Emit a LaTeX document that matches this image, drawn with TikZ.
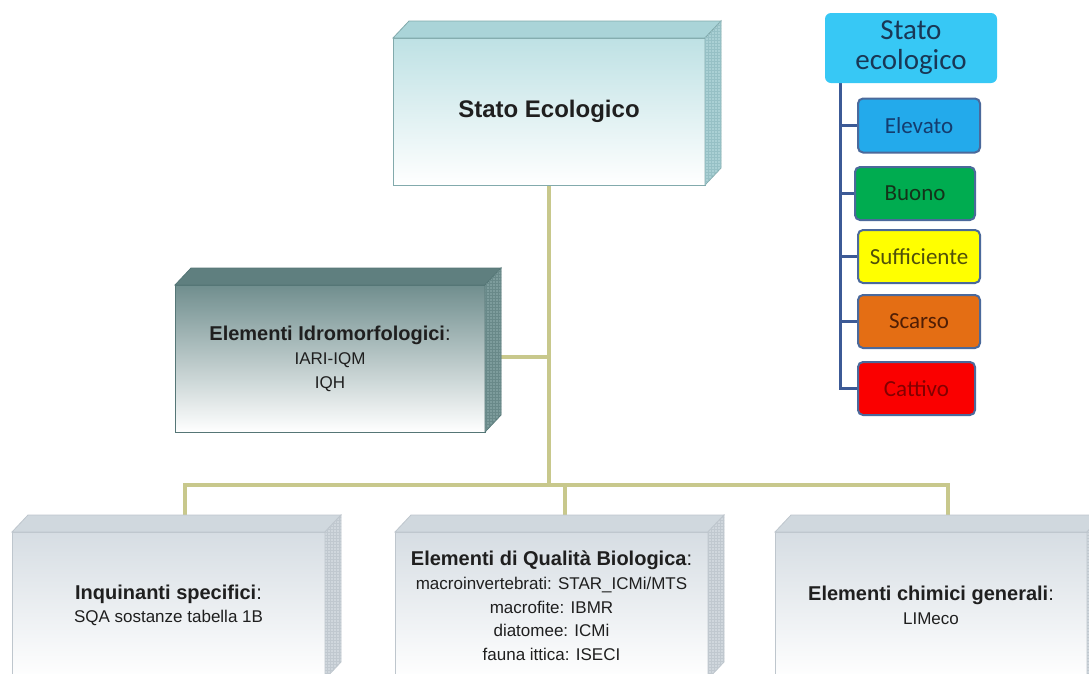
\documentclass[tikz,border=0pt]{standalone}
\usepackage{fontspec}
\setmainfont{Liberation Sans}
\newfontfamily\calib{Carlito}
\usetikzlibrary{patterns}
\pgfdeclarelayer{bg}
\pgfdeclarelayer{lines}
\pgfsetlayers{bg,lines,main}

\definecolor{conn}{RGB}{200,200,140}
\definecolor{legline}{RGB}{60,90,150}
\definecolor{legborder}{RGB}{75,105,155}
\definecolor{legtitle}{RGB}{55,200,245}
\definecolor{elev}{RGB}{35,170,235}
\definecolor{buon}{RGB}{0,172,80}
\definecolor{suff}{RGB}{255,255,0}
\definecolor{scar}{RGB}{228,110,20}
\definecolor{catt}{RGB}{250,0,0}
\definecolor{setop}{RGB}{190,225,228}
\definecolor{seface}{RGB}{170,212,216}
\definecolor{seside}{RGB}{170,208,212}
\definecolor{segrid}{RGB}{150,192,197}
\definecolor{seborder}{RGB}{130,170,172}
\definecolor{hytop}{RGB}{112,142,142}
\definecolor{hyface}{RGB}{95,127,127}
\definecolor{hyside}{RGB}{125,156,156}
\definecolor{hygrid}{RGB}{105,137,137}
\definecolor{hyborder}{RGB}{85,118,118}
\definecolor{bttop}{RGB}{214,221,227}
\definecolor{btface}{RGB}{208,216,222}
\definecolor{btside}{RGB}{208,215,221}
\definecolor{btgrid}{RGB}{192,200,207}
\definecolor{btborder}{RGB}{190,198,205}

\newcommand\cubefaces[5]{%
  \filldraw[fill=#2,draw=#4,line width=0.8pt] (#1.north west) -- ++(16,-17) -- ([shift={(16,-17)}]#1.north east) -- (#1.north east) -- cycle;
  \filldraw[fill=#3,draw=#4,line width=0.8pt] (#1.north east) -- ([shift={(16,-17)}]#1.north east) -- ([shift={(16,-17)}]#1.south east) -- (#1.south east) -- cycle;
  \fill[pattern=grid,pattern color=#5] (#1.north east) -- ([shift={(16,-17)}]#1.north east) -- ([shift={(16,-17)}]#1.south east) -- (#1.south east) -- cycle;
}

\tikzset{
  frontbox/.style={rectangle, draw, line width=0.8pt, outer sep=0pt, inner sep=0pt,
    align=center, bottom color=white, minimum width=312pt, minimum height=147pt,
    text=black!88, font=\fontsize{17}{23.5}\selectfont},
  conline/.style={draw=conn, line width=3.2pt},
  legline/.style={draw=legline, line width=3pt},
  legitem/.style={rectangle, rounded corners=5pt, draw=legborder, line width=2pt,
    minimum width=122pt, minimum height=54pt, inner sep=0pt, outer sep=0pt,
    font=\calib\fontsize{23}{26}\selectfont},
}

\begin{document}
\begin{tikzpicture}[x=1pt,y=-1pt]
\begin{pgfonlayer}{bg}
\fill[white] (0,0) rectangle (1089,673);
\end{pgfonlayer}
\useasboundingbox (0,0) rectangle (1089,673);

% main boxes
\node[frontbox, draw=seborder, top color=setop] (se) at (549,111.5)
  {\fontsize{24}{28}\selectfont\bfseries Stato Ecologico};
\cubefaces{se}{seface}{seside}{seborder}{segrid}

\node[frontbox, draw=hyborder, top color=hytop, minimum width=310pt] (hyd) at (330,358.5)
  {{\fontsize{20}{24}\selectfont\bfseries Elementi Idromorfologici\mdseries:}\\[1pt]
   IARI-IQM\\IQH};
\cubefaces{hyd}{hyface}{hyside}{hyborder}{hygrid}

\node[frontbox, draw=btborder, top color=bttop, minimum width=313pt] (inq) at (168.5,605.5)
  {{\fontsize{20}{24}\selectfont\bfseries Inquinanti specifici\mdseries:}\\
   SQA sostanze tabella 1B};
\cubefaces{inq}{btface}{btside}{btborder}{btgrid}

\node[frontbox, draw=btborder, top color=bttop, minimum width=313pt] (bio) at (551.5,605.5)
  {{\fontsize{20}{24}\selectfont\bfseries Elementi di Qualità Biologica\mdseries:}\\[1pt]
   macroinvertebrati: STAR\_ICMi/MTS\\macrofite: IBMR\\diatomee: ICMi\\fauna ittica: ISECI};
\cubefaces{bio}{btface}{btside}{btborder}{btgrid}

\node[frontbox, draw=btborder, top color=bttop, minimum width=312pt] (chim) at (931,605.5)
  {{\fontsize{20}{24}\selectfont\bfseries Elementi chimici generali\mdseries:}\\
   LIMeco};
\cubefaces{chim}{btface}{btside}{btborder}{btgrid}

% connectors
\coordinate (j1) at (549,357);
\coordinate (j2) at (549,485);
\coordinate (bl) at (185,485);
\coordinate (bm) at (565,485);
\coordinate (br) at (948,485);
\begin{pgfonlayer}{lines}
\draw[conline] (se.south) -- (j2);
\draw[conline] (j1) -- (j1 -| hyd.east);
\draw[conline, line cap=rect] (bl) -- (br);
\draw[conline] (bl) -- (bl |- inq.north);
\draw[conline] (bm) -- (bm |- bio.north);
\draw[conline] (br) -- (br |- chim.north);
\end{pgfonlayer}

% legend
\node[rectangle, rounded corners=6pt, fill=legtitle, minimum width=172pt, minimum height=70pt,
  inner sep=0pt, align=center, text={rgb,255:red,25;green,55;blue,85},
  font=\calib\fontsize{29}{30}\selectfont] (leg) at (911,48) {Stato\\ecologico};
\node[legitem, fill=elev, text={rgb,255:red,20;green,60;blue,110}] (el) at (919,125.5) {Elevato};
\node[legitem, fill=buon, minimum width=120pt, minimum height=53pt, text={rgb,255:red,20;green,50;blue,25}] (bu) at (915,193.5) {Buono};
\node[legitem, fill=suff, minimum height=53pt, text={rgb,255:red,80;green,80;blue,10}] (su) at (919,256.5) {Sufficiente};
\node[legitem, fill=scar, minimum height=53pt, text={rgb,255:red,80;green,30;blue,5}] (sc) at (919,321.5) {Scarso};
\node[legitem, fill=catt, minimum width=117pt, minimum height=53pt, text={rgb,255:red,130;green,0;blue,0}] (ca) at (916.5,388.5) {Cattivo};
\coordinate (lt) at (840,83);
\begin{pgfonlayer}{lines}
\draw[legline] (lt) |- (ca.west);
\draw[legline] (lt |- el.west) -- (el.west);
\draw[legline] (lt |- bu.west) -- (bu.west);
\draw[legline] (lt |- su.west) -- (su.west);
\draw[legline] (lt |- sc.west) -- (sc.west);
\end{pgfonlayer}
\end{tikzpicture}
\end{document}
